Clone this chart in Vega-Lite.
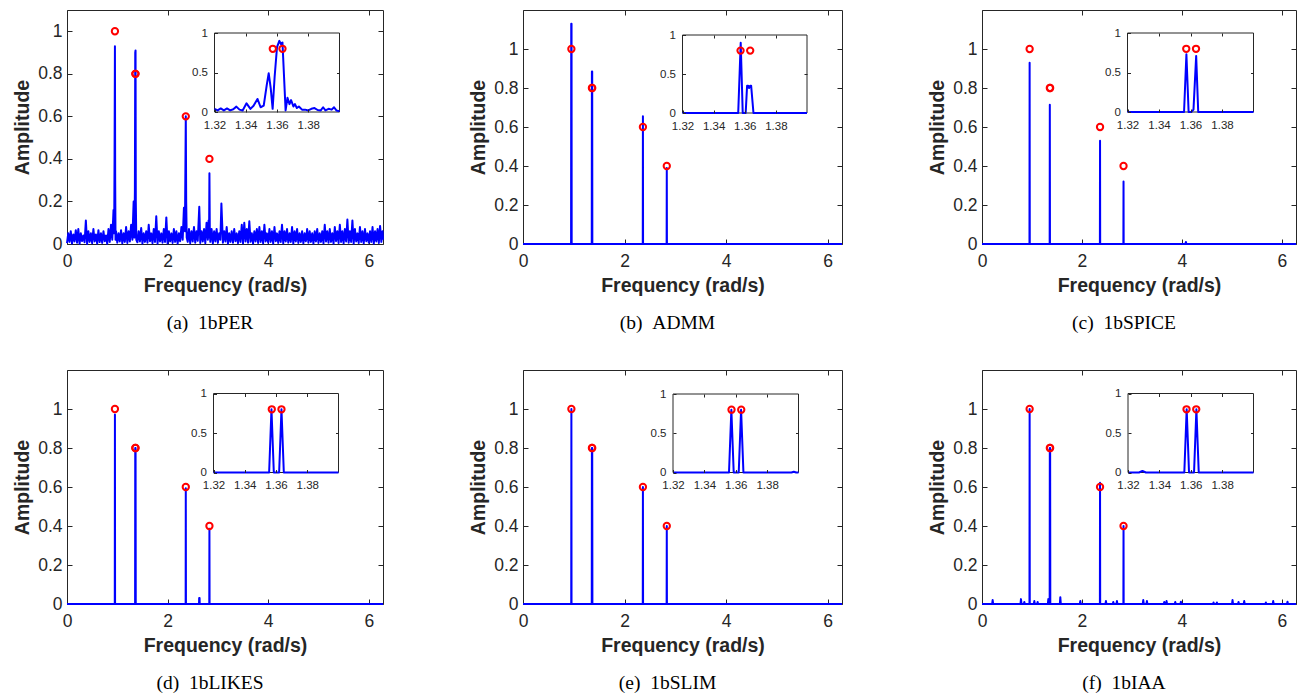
{
"$schema": "https://vega.github.io/schema/vega-lite/v6.json",
"padding": {"left": 12, "top": 9, "right": 0, "bottom": 0},
"background": "#ffffff",
"datasets": {
"truth": [{"x":0.953,"y":1},{"x":1.3573,"y":0.8},{"x":1.3635,"y":0.8},{"x":2.362,"y":0.6},{"x":2.832,"y":0.4}],
"ins_true": [{"x":1.3573,"y":0.8},{"x":1.3635,"y":0.8}],
"a_main": [{"x":0,"y":0.004},{"x":0.025,"y":0.05},{"x":0.05,"y":0.01},{"x":0.075,"y":0.06},{"x":0.1,"y":0.002},{"x":0.125,"y":0.045},{"x":0.15,"y":0.012},{"x":0.175,"y":0.065},{"x":0.2,"y":0.006},{"x":0.225,"y":0.07},{"x":0.25,"y":0.001},{"x":0.275,"y":0.05},{"x":0.3,"y":0.014},{"x":0.325,"y":0.04},{"x":0.35,"y":0.008},{"x":0.375,"y":0.11},{"x":0.4,"y":0},{"x":0.425,"y":0.06},{"x":0.45,"y":0.01},{"x":0.475,"y":0.05},{"x":0.5,"y":0.004},{"x":0.525,"y":0.07},{"x":0.55,"y":0.012},{"x":0.575,"y":0.045},{"x":0.6,"y":0.002},{"x":0.625,"y":0.065},{"x":0.65,"y":0.009},{"x":0.675,"y":0.05},{"x":0.7,"y":0.005},{"x":0.725,"y":0.06},{"x":0.75,"y":0.013},{"x":0.775,"y":0.04},{"x":0.8,"y":0.001},{"x":0.825,"y":0.07},{"x":0.85,"y":0.01},{"x":0.875,"y":0.09},{"x":0.9,"y":0.02},{"x":0.925,"y":0.16},{"x":0.938,"y":0.05},{"x":0.946,"y":0.42},{"x":0.953,"y":0.93},{"x":0.958,"y":0.3},{"x":0.965,"y":0.02},{"x":0.975,"y":0.06},{"x":1,"y":0.006},{"x":1.025,"y":0.05},{"x":1.05,"y":0.012},{"x":1.075,"y":0.065},{"x":1.1,"y":0.003},{"x":1.125,"y":0.05},{"x":1.15,"y":0.01},{"x":1.175,"y":0.08},{"x":1.2,"y":0.005},{"x":1.225,"y":0.06},{"x":1.25,"y":0.012},{"x":1.275,"y":0.09},{"x":1.3,"y":0.02},{"x":1.325,"y":0.2},{"x":1.34,"y":0.03},{"x":1.35,"y":0.25},{"x":1.357,"y":0.9},{"x":1.363,"y":0.91},{"x":1.368,"y":0.2},{"x":1.378,"y":0.02},{"x":1.4,"y":0.008},{"x":1.425,"y":0.06},{"x":1.45,"y":0.012},{"x":1.475,"y":0.075},{"x":1.5,"y":0.002},{"x":1.525,"y":0.05},{"x":1.55,"y":0.01},{"x":1.575,"y":0.06},{"x":1.6,"y":0.006},{"x":1.625,"y":0.09},{"x":1.65,"y":0.013},{"x":1.675,"y":0.05},{"x":1.7,"y":0.004},{"x":1.725,"y":0.07},{"x":1.75,"y":0.01},{"x":1.775,"y":0.13},{"x":1.8,"y":0.002},{"x":1.825,"y":0.06},{"x":1.85,"y":0.012},{"x":1.875,"y":0.05},{"x":1.9,"y":0.006},{"x":1.925,"y":0.07},{"x":1.95,"y":0.01},{"x":1.975,"y":0.125},{"x":2,"y":0.003},{"x":2.025,"y":0.06},{"x":2.05,"y":0.012},{"x":2.075,"y":0.05},{"x":2.1,"y":0.005},{"x":2.125,"y":0.07},{"x":2.15,"y":0.01},{"x":2.175,"y":0.06},{"x":2.2,"y":0.002},{"x":2.225,"y":0.05},{"x":2.25,"y":0.013},{"x":2.275,"y":0.08},{"x":2.3,"y":0.02},{"x":2.325,"y":0.17},{"x":2.345,"y":0.06},{"x":2.362,"y":0.6},{"x":2.37,"y":0.2},{"x":2.38,"y":0.03},{"x":2.4,"y":0.01},{"x":2.425,"y":0.07},{"x":2.45,"y":0.004},{"x":2.475,"y":0.06},{"x":2.5,"y":0.012},{"x":2.525,"y":0.08},{"x":2.55,"y":0.006},{"x":2.575,"y":0.06},{"x":2.6,"y":0.015},{"x":2.63,"y":0.175},{"x":2.65,"y":0.005},{"x":2.675,"y":0.06},{"x":2.7,"y":0.012},{"x":2.725,"y":0.07},{"x":2.75,"y":0.004},{"x":2.775,"y":0.1},{"x":2.8,"y":0.02},{"x":2.815,"y":0.11},{"x":2.825,"y":0.03},{"x":2.832,"y":0.333},{"x":2.84,"y":0.05},{"x":2.85,"y":0.01},{"x":2.875,"y":0.07},{"x":2.9,"y":0.003},{"x":2.925,"y":0.06},{"x":2.95,"y":0.012},{"x":2.975,"y":0.07},{"x":3,"y":0.005},{"x":3.025,"y":0.05},{"x":3.05,"y":0.02},{"x":3.07,"y":0.19},{"x":3.1,"y":0.006},{"x":3.125,"y":0.06},{"x":3.15,"y":0.012},{"x":3.175,"y":0.08},{"x":3.2,"y":0.002},{"x":3.225,"y":0.05},{"x":3.25,"y":0.01},{"x":3.275,"y":0.06},{"x":3.3,"y":0.006},{"x":3.325,"y":0.07},{"x":3.35,"y":0.013},{"x":3.375,"y":0.05},{"x":3.4,"y":0.004},{"x":3.425,"y":0.06},{"x":3.45,"y":0.01},{"x":3.475,"y":0.09},{"x":3.5,"y":0.003},{"x":3.525,"y":0.1},{"x":3.55,"y":0.012},{"x":3.575,"y":0.07},{"x":3.6,"y":0.006},{"x":3.625,"y":0.107},{"x":3.65,"y":0.01},{"x":3.675,"y":0.05},{"x":3.7,"y":0.002},{"x":3.725,"y":0.06},{"x":3.75,"y":0.012},{"x":3.775,"y":0.07},{"x":3.8,"y":0.005},{"x":3.825,"y":0.08},{"x":3.85,"y":0.01},{"x":3.875,"y":0.06},{"x":3.9,"y":0.003},{"x":3.925,"y":0.09},{"x":3.95,"y":0.012},{"x":3.975,"y":0.05},{"x":4,"y":0.006},{"x":4.025,"y":0.07},{"x":4.05,"y":0.01},{"x":4.075,"y":0.06},{"x":4.1,"y":0.002},{"x":4.125,"y":0.08},{"x":4.15,"y":0.013},{"x":4.175,"y":0.05},{"x":4.2,"y":0.005},{"x":4.225,"y":0.06},{"x":4.25,"y":0.01},{"x":4.275,"y":0.09},{"x":4.3,"y":0.003},{"x":4.325,"y":0.06},{"x":4.35,"y":0.012},{"x":4.375,"y":0.07},{"x":4.4,"y":0.006},{"x":4.425,"y":0.05},{"x":4.45,"y":0.01},{"x":4.475,"y":0.08},{"x":4.5,"y":0.002},{"x":4.525,"y":0.06},{"x":4.55,"y":0.012},{"x":4.575,"y":0.07},{"x":4.6,"y":0.005},{"x":4.625,"y":0.05},{"x":4.65,"y":0.01},{"x":4.675,"y":0.06},{"x":4.7,"y":0.003},{"x":4.725,"y":0.05},{"x":4.75,"y":0.013},{"x":4.775,"y":0.07},{"x":4.8,"y":0.006},{"x":4.825,"y":0.06},{"x":4.85,"y":0.01},{"x":4.875,"y":0.05},{"x":4.9,"y":0.002},{"x":4.925,"y":0.06},{"x":4.95,"y":0.012},{"x":4.975,"y":0.07},{"x":5,"y":0.005},{"x":5.025,"y":0.05},{"x":5.05,"y":0.01},{"x":5.075,"y":0.06},{"x":5.1,"y":0.003},{"x":5.125,"y":0.09},{"x":5.15,"y":0.012},{"x":5.175,"y":0.06},{"x":5.2,"y":0.006},{"x":5.225,"y":0.07},{"x":5.25,"y":0.01},{"x":5.275,"y":0.05},{"x":5.3,"y":0.002},{"x":5.325,"y":0.08},{"x":5.35,"y":0.013},{"x":5.375,"y":0.06},{"x":5.4,"y":0.005},{"x":5.425,"y":0.09},{"x":5.45,"y":0.01},{"x":5.475,"y":0.06},{"x":5.5,"y":0.003},{"x":5.525,"y":0.07},{"x":5.55,"y":0.012},{"x":5.575,"y":0.115},{"x":5.6,"y":0.006},{"x":5.625,"y":0.06},{"x":5.65,"y":0.01},{"x":5.675,"y":0.11},{"x":5.7,"y":0.002},{"x":5.725,"y":0.07},{"x":5.75,"y":0.012},{"x":5.775,"y":0.05},{"x":5.8,"y":0.005},{"x":5.825,"y":0.08},{"x":5.85,"y":0.01},{"x":5.875,"y":0.06},{"x":5.9,"y":0.003},{"x":5.925,"y":0.07},{"x":5.95,"y":0.013},{"x":5.975,"y":0.05},{"x":6,"y":0.006},{"x":6.025,"y":0.06},{"x":6.05,"y":0.01},{"x":6.075,"y":0.08},{"x":6.1,"y":0.002},{"x":6.125,"y":0.06},{"x":6.15,"y":0.012},{"x":6.175,"y":0.07},{"x":6.2,"y":0.005},{"x":6.225,"y":0.085},{"x":6.25,"y":0.01},{"x":6.275,"y":0.06},{"x":6.2832,"y":0.02}],
"a_ins": [{"x":1.32,"y":0.04},{"x":1.322,"y":0.02},{"x":1.324,"y":0.045},{"x":1.326,"y":0.02},{"x":1.328,"y":0.045},{"x":1.33,"y":0.02},{"x":1.332,"y":0.035},{"x":1.334,"y":0.068},{"x":1.336,"y":0.03},{"x":1.338,"y":0.02},{"x":1.3405,"y":0.11},{"x":1.343,"y":0.04},{"x":1.345,"y":0.08},{"x":1.3475,"y":0.165},{"x":1.3495,"y":0.06},{"x":1.3515,"y":0.08},{"x":1.3535,"y":0.35},{"x":1.3547,"y":0.49},{"x":1.356,"y":0.3},{"x":1.3572,"y":0.04},{"x":1.3585,"y":0.45},{"x":1.36,"y":0.82},{"x":1.3615,"y":0.9},{"x":1.3625,"y":0.86},{"x":1.3635,"y":0.88},{"x":1.3645,"y":0.45},{"x":1.3655,"y":0.02},{"x":1.3667,"y":0.18},{"x":1.368,"y":0.1},{"x":1.369,"y":0.15},{"x":1.3705,"y":0.07},{"x":1.3715,"y":0.1},{"x":1.3727,"y":0.05},{"x":1.374,"y":0.07},{"x":1.376,"y":0.03},{"x":1.378,"y":0.03},{"x":1.38,"y":0.02},{"x":1.382,"y":0.04},{"x":1.384,"y":0.05},{"x":1.386,"y":0.025},{"x":1.388,"y":0.02},{"x":1.3895,"y":0.06},{"x":1.391,"y":0.02},{"x":1.393,"y":0.04},{"x":1.395,"y":0.03},{"x":1.3965,"y":0.06},{"x":1.398,"y":0.02},{"x":1.4,"y":0.01}],
"b_main": [{"x":0,"y":0},{"x":0.947,"y":0},{"x":0.95,"y":1.13},{"x":0.956,"y":1.13},{"x":0.959,"y":0},{"x":1.354,"y":0},{"x":1.357,"y":0.885},{"x":1.363,"y":0.885},{"x":1.366,"y":0},{"x":2.359,"y":0},{"x":2.362,"y":0.655},{"x":2.365,"y":0},{"x":2.829,"y":0},{"x":2.832,"y":0.39},{"x":2.835,"y":0},{"x":6.2832,"y":0}],
"b_ins": [{"x":1.32,"y":0},{"x":1.3558,"y":0},{"x":1.3574,"y":0.9},{"x":1.3587,"y":0},{"x":1.3606,"y":0},{"x":1.3615,"y":0.35},{"x":1.3622,"y":0.35},{"x":1.3628,"y":0.32},{"x":1.3635,"y":0.35},{"x":1.3641,"y":0.35},{"x":1.3656,"y":0},{"x":1.4,"y":0}],
"c_main": [{"x":0,"y":0},{"x":0.95,"y":0},{"x":0.953,"y":0.93},{"x":0.956,"y":0},{"x":1.354,"y":0},{"x":1.357,"y":0.714},{"x":1.36,"y":0},{"x":2.359,"y":0},{"x":2.362,"y":0.529},{"x":2.365,"y":0},{"x":2.829,"y":0},{"x":2.832,"y":0.32},{"x":2.835,"y":0},{"x":4.07,"y":0},{"x":4.08,"y":0.01},{"x":4.09,"y":0},{"x":6.2832,"y":0}],
"c_ins": [{"x":1.32,"y":0},{"x":1.3559,"y":0},{"x":1.3574,"y":0.73},{"x":1.3588,"y":0},{"x":1.3605,"y":0},{"x":1.3619,"y":0.03},{"x":1.3636,"y":0.71},{"x":1.3649,"y":0},{"x":1.4,"y":0}],
"d_main": [{"x":0,"y":0},{"x":0.95,"y":0},{"x":0.953,"y":0.972},{"x":0.956,"y":0},{"x":1.354,"y":0},{"x":1.357,"y":0.8},{"x":1.36,"y":0.02},{"x":1.3635,"y":0.8},{"x":1.367,"y":0},{"x":2.359,"y":0},{"x":2.362,"y":0.593},{"x":2.365,"y":0},{"x":2.625,"y":0},{"x":2.628,"y":0.031},{"x":2.636,"y":0.031},{"x":2.639,"y":0},{"x":2.829,"y":0},{"x":2.832,"y":0.386},{"x":2.835,"y":0},{"x":6.2832,"y":0}],
"d_ins": [{"x":1.32,"y":0},{"x":1.3556,"y":0},{"x":1.3571,"y":0.8},{"x":1.3586,"y":0},{"x":1.362,"y":0},{"x":1.3635,"y":0.8},{"x":1.365,"y":0},{"x":1.4,"y":0}],
"e_main": [{"x":0,"y":0},{"x":0.95,"y":0},{"x":0.953,"y":1},{"x":0.956,"y":0},{"x":1.354,"y":0},{"x":1.357,"y":0.8},{"x":1.36,"y":0.02},{"x":1.3635,"y":0.8},{"x":1.367,"y":0},{"x":2.359,"y":0},{"x":2.362,"y":0.6},{"x":2.365,"y":0},{"x":2.829,"y":0},{"x":2.832,"y":0.4},{"x":2.835,"y":0},{"x":6.2832,"y":0}],
"e_ins": [{"x":1.32,"y":0},{"x":1.3557,"y":0},{"x":1.3572,"y":0.8},{"x":1.3587,"y":0},{"x":1.3619,"y":0},{"x":1.3634,"y":0.8},{"x":1.3649,"y":0},{"x":1.3955,"y":0},{"x":1.397,"y":0.01},{"x":1.3985,"y":0},{"x":1.4,"y":0}],
"f_main": [{"x":0,"y":0},{"x":0.203,"y":0},{"x":0.213,"y":0.02},{"x":0.223,"y":0},{"x":0.77,"y":0},{"x":0.78,"y":0.025},{"x":0.79,"y":0},{"x":0.837,"y":0},{"x":0.847,"y":0.01},{"x":0.857,"y":0},{"x":0.95,"y":0},{"x":0.953,"y":1},{"x":0.956,"y":0},{"x":1.037,"y":0},{"x":1.047,"y":0.015},{"x":1.057,"y":0},{"x":1.103,"y":0},{"x":1.113,"y":0.01},{"x":1.123,"y":0},{"x":1.317,"y":0},{"x":1.327,"y":0.025},{"x":1.337,"y":0},{"x":1.354,"y":0},{"x":1.357,"y":0.8},{"x":1.36,"y":0.02},{"x":1.3635,"y":0.8},{"x":1.367,"y":0},{"x":1.557,"y":0},{"x":1.567,"y":0.035},{"x":1.577,"y":0},{"x":1.957,"y":0},{"x":1.967,"y":0.015},{"x":1.977,"y":0},{"x":2.359,"y":0},{"x":2.362,"y":0.622},{"x":2.365,"y":0},{"x":2.47,"y":0},{"x":2.48,"y":0.015},{"x":2.49,"y":0},{"x":2.617,"y":0},{"x":2.627,"y":0.01},{"x":2.637,"y":0},{"x":2.69,"y":0},{"x":2.7,"y":0.015},{"x":2.71,"y":0},{"x":2.829,"y":0},{"x":2.832,"y":0.4},{"x":2.835,"y":0},{"x":3.217,"y":0},{"x":3.227,"y":0.02},{"x":3.237,"y":0},{"x":3.29,"y":0},{"x":3.3,"y":0.015},{"x":3.31,"y":0},{"x":3.637,"y":0},{"x":3.647,"y":0.01},{"x":3.657,"y":0},{"x":3.683,"y":0},{"x":3.693,"y":0.015},{"x":3.703,"y":0},{"x":3.857,"y":0},{"x":3.867,"y":0.01},{"x":3.877,"y":0},{"x":3.97,"y":0},{"x":3.98,"y":0.012},{"x":3.99,"y":0},{"x":4.623,"y":0},{"x":4.633,"y":0.008},{"x":4.643,"y":0},{"x":4.69,"y":0},{"x":4.7,"y":0.008},{"x":4.71,"y":0},{"x":5.003,"y":0},{"x":5.013,"y":0.02},{"x":5.023,"y":0},{"x":5.123,"y":0},{"x":5.133,"y":0.01},{"x":5.143,"y":0},{"x":5.237,"y":0},{"x":5.247,"y":0.015},{"x":5.257,"y":0},{"x":5.67,"y":0},{"x":5.68,"y":0.008},{"x":5.69,"y":0},{"x":5.817,"y":0},{"x":5.827,"y":0.015},{"x":5.837,"y":0},{"x":6.103,"y":0},{"x":6.113,"y":0.012},{"x":6.123,"y":0},{"x":6.2832,"y":0}],
"f_ins": [{"x":1.32,"y":0},{"x":1.327,"y":0},{"x":1.3292,"y":0.02},{"x":1.3314,"y":0},{"x":1.3559,"y":0},{"x":1.3574,"y":0.8},{"x":1.3589,"y":0},{"x":1.3621,"y":0},{"x":1.3636,"y":0.8},{"x":1.3651,"y":0},{"x":1.4,"y":0}]
},
"concat": [
{
"width": 316, "height": 234,
"title": {"text": "(a)\u00a0\u00a01bPER", "orient": "bottom", "offset": 19, "dx": -15, "anchor": "middle", "frame": "group"},
"layer": [
{"data": {"name": "a_main"}, "mark": {"type": "line", "color": "#0000ff", "strokeWidth": 2, "strokeJoin": "round"},
 "encoding": {"x": {"field": "x", "type": "quantitative", "scale": {"domain": [0, 6.2832], "nice": false, "zero": false}, "axis": {"orient": "bottom", "values": [0,2,4,6], "title": "Frequency (rad/s)", "labelPadding": 13.5, "titlePadding": 6}},
  "y": {"field": "y", "type": "quantitative", "scale": {"domain": [0, 1.1], "nice": false}, "axis": {"orient": "left", "values": [0,0.2,0.4,0.6,0.8,1], "format": "~g", "title": "Amplitude", "labelPadding": 10, "titlePadding": 5}}}},
{"data": {"name": "truth"}, "mark": {"type": "point", "shape": "circle", "filled": false, "color": "#ff0000", "strokeWidth": 2, "size": 40, "opacity": 1},
 "encoding": {"x": {"field": "x", "type": "quantitative", "scale": {"domain": [0, 6.2832], "nice": false, "zero": false}, "axis": {"orient": "top", "values": [0,2,4,6], "labels": false, "title": null}},
  "y": {"field": "y", "type": "quantitative", "scale": {"domain": [0, 1.1], "nice": false}, "axis": {"orient": "right", "values": [0,0.2,0.4,0.6,0.8,1], "labels": false, "title": null}}}},
{"data": {"values": [{}]}, "mark": {"type": "rect", "fill": "#ffffff", "stroke": "#262626", "strokeWidth": 1},
 "encoding": {"x": {"datum": 1.32, "type": "quantitative", "scale": {"domain": [1.32, 1.4], "range": [147.5, 272.5], "nice": false, "zero": false}, "axis": {"orient": "bottom", "offset": -132, "values": [1.32,1.34,1.36,1.38], "format": "~g", "title": null, "labelFontSize": 11.5, "tickSize": -3, "labelPadding": 10, "zindex": 1}},
  "x2": {"datum": 1.4},
  "y": {"datum": 0, "type": "quantitative", "scale": {"domain": [0, 1], "range": [102, 23], "nice": false}, "axis": {"orient": "left", "offset": -147.5, "values": [0,0.5,1], "format": "~g", "title": null, "labelFontSize": 11.5, "tickSize": -3, "labelPadding": 10, "zindex": 1}},
  "y2": {"datum": 1}}},
{"data": {"name": "a_ins"}, "mark": {"type": "line", "color": "#0000ff", "strokeWidth": 2, "strokeJoin": "round"},
 "encoding": {"x": {"field": "x", "type": "quantitative", "scale": {"domain": [1.32, 1.4], "range": [147.5, 272.5], "nice": false, "zero": false}, "axis": null},
  "y": {"field": "y", "type": "quantitative", "scale": {"domain": [0, 1], "range": [102, 23], "nice": false}, "axis": null}}},
{"data": {"name": "ins_true"}, "mark": {"type": "point", "shape": "circle", "filled": false, "color": "#ff0000", "strokeWidth": 2, "size": 40, "opacity": 1},
 "encoding": {"x": {"field": "x", "type": "quantitative", "scale": {"domain": [1.32, 1.4], "range": [147.5, 272.5], "nice": false, "zero": false}, "axis": {"orient": "top", "offset": -23, "values": [1.34,1.36,1.38], "labels": false, "title": null, "tickSize": -3, "zindex": 1}},
  "y": {"field": "y", "type": "quantitative", "scale": {"domain": [0, 1], "range": [102, 23], "nice": false}, "axis": {"orient": "right", "offset": -43.5, "values": [0.5], "labels": false, "title": null, "tickSize": -3, "zindex": 1}}}}
],
"resolve": {"scale": {"x": "independent", "y": "independent"}, "axis": {"x": "independent", "y": "independent"}}
},
{
"width": 319, "height": 234,
"title": {"text": "(b)\u00a0\u00a0ADMM", "orient": "bottom", "offset": 19, "dx": -15, "anchor": "middle", "frame": "group"},
"layer": [
{"data": {"name": "b_main"}, "mark": {"type": "line", "color": "#0000ff", "strokeWidth": 2, "strokeJoin": "round"},
 "encoding": {"x": {"field": "x", "type": "quantitative", "scale": {"domain": [0, 6.2832], "nice": false, "zero": false}, "axis": {"orient": "bottom", "values": [0,2,4,6], "title": "Frequency (rad/s)", "labelPadding": 13.5, "titlePadding": 6}},
  "y": {"field": "y", "type": "quantitative", "scale": {"domain": [0, 1.2], "nice": false}, "axis": {"orient": "left", "values": [0,0.2,0.4,0.6,0.8,1], "format": "~g", "title": "Amplitude", "labelPadding": 10, "titlePadding": 5}}}},
{"data": {"name": "truth"}, "mark": {"type": "point", "shape": "circle", "filled": false, "color": "#ff0000", "strokeWidth": 2, "size": 40, "opacity": 1},
 "encoding": {"x": {"field": "x", "type": "quantitative", "scale": {"domain": [0, 6.2832], "nice": false, "zero": false}, "axis": {"orient": "top", "values": [0,2,4,6], "labels": false, "title": null}},
  "y": {"field": "y", "type": "quantitative", "scale": {"domain": [0, 1.2], "nice": false}, "axis": {"orient": "right", "values": [0,0.2,0.4,0.6,0.8,1], "labels": false, "title": null}}}},
{"data": {"values": [{}]}, "mark": {"type": "rect", "fill": "#ffffff", "stroke": "#262626", "strokeWidth": 1},
 "encoding": {"x": {"datum": 1.32, "type": "quantitative", "scale": {"domain": [1.32, 1.4], "range": [159.5, 284], "nice": false, "zero": false}, "axis": {"orient": "bottom", "offset": -131, "values": [1.32,1.34,1.36,1.38], "format": "~g", "title": null, "labelFontSize": 11.5, "tickSize": -3, "labelPadding": 10, "zindex": 1}},
  "x2": {"datum": 1.4},
  "y": {"datum": 0, "type": "quantitative", "scale": {"domain": [0, 1], "range": [103, 25], "nice": false}, "axis": {"orient": "left", "offset": -159.5, "values": [0,0.5,1], "format": "~g", "title": null, "labelFontSize": 11.5, "tickSize": -3, "labelPadding": 10, "zindex": 1}},
  "y2": {"datum": 1}}},
{"data": {"name": "b_ins"}, "mark": {"type": "line", "color": "#0000ff", "strokeWidth": 2, "strokeJoin": "round"},
 "encoding": {"x": {"field": "x", "type": "quantitative", "scale": {"domain": [1.32, 1.4], "range": [159.5, 284], "nice": false, "zero": false}, "axis": null},
  "y": {"field": "y", "type": "quantitative", "scale": {"domain": [0, 1], "range": [103, 25], "nice": false}, "axis": null}}},
{"data": {"name": "ins_true"}, "mark": {"type": "point", "shape": "circle", "filled": false, "color": "#ff0000", "strokeWidth": 2, "size": 40, "opacity": 1},
 "encoding": {"x": {"field": "x", "type": "quantitative", "scale": {"domain": [1.32, 1.4], "range": [159.5, 284], "nice": false, "zero": false}, "axis": {"orient": "top", "offset": -25, "values": [1.34,1.36,1.38], "labels": false, "title": null, "tickSize": -3, "zindex": 1}},
  "y": {"field": "y", "type": "quantitative", "scale": {"domain": [0, 1], "range": [103, 25], "nice": false}, "axis": {"orient": "right", "offset": -35, "values": [0.5], "labels": false, "title": null, "tickSize": -3, "zindex": 1}}}}
],
"resolve": {"scale": {"x": "independent", "y": "independent"}, "axis": {"x": "independent", "y": "independent"}}
},
{
"width": 314, "height": 234,
"title": {"text": "(c)\u00a0\u00a01bSPICE", "orient": "bottom", "offset": 19, "dx": -15, "anchor": "middle", "frame": "group"},
"layer": [
{"data": {"name": "c_main"}, "mark": {"type": "line", "color": "#0000ff", "strokeWidth": 2, "strokeJoin": "round"},
 "encoding": {"x": {"field": "x", "type": "quantitative", "scale": {"domain": [0, 6.2832], "nice": false, "zero": false}, "axis": {"orient": "bottom", "values": [0,2,4,6], "title": "Frequency (rad/s)", "labelPadding": 13.5, "titlePadding": 6}},
  "y": {"field": "y", "type": "quantitative", "scale": {"domain": [0, 1.2], "nice": false}, "axis": {"orient": "left", "values": [0,0.2,0.4,0.6,0.8,1], "format": "~g", "title": "Amplitude", "labelPadding": 10, "titlePadding": 5}}}},
{"data": {"name": "truth"}, "mark": {"type": "point", "shape": "circle", "filled": false, "color": "#ff0000", "strokeWidth": 2, "size": 40, "opacity": 1},
 "encoding": {"x": {"field": "x", "type": "quantitative", "scale": {"domain": [0, 6.2832], "nice": false, "zero": false}, "axis": {"orient": "top", "values": [0,2,4,6], "labels": false, "title": null}},
  "y": {"field": "y", "type": "quantitative", "scale": {"domain": [0, 1.2], "nice": false}, "axis": {"orient": "right", "values": [0,0.2,0.4,0.6,0.8,1], "labels": false, "title": null}}}},
{"data": {"values": [{}]}, "mark": {"type": "rect", "fill": "#ffffff", "stroke": "#262626", "strokeWidth": 1},
 "encoding": {"x": {"datum": 1.32, "type": "quantitative", "scale": {"domain": [1.32, 1.4], "range": [145.5, 271.5], "nice": false, "zero": false}, "axis": {"orient": "bottom", "offset": -132, "values": [1.32,1.34,1.36,1.38], "format": "~g", "title": null, "labelFontSize": 11.5, "tickSize": -3, "labelPadding": 10, "zindex": 1}},
  "x2": {"datum": 1.4},
  "y": {"datum": 0, "type": "quantitative", "scale": {"domain": [0, 1], "range": [102, 23], "nice": false}, "axis": {"orient": "left", "offset": -145.5, "values": [0,0.5,1], "format": "~g", "title": null, "labelFontSize": 11.5, "tickSize": -3, "labelPadding": 10, "zindex": 1}},
  "y2": {"datum": 1}}},
{"data": {"name": "c_ins"}, "mark": {"type": "line", "color": "#0000ff", "strokeWidth": 2, "strokeJoin": "round"},
 "encoding": {"x": {"field": "x", "type": "quantitative", "scale": {"domain": [1.32, 1.4], "range": [145.5, 271.5], "nice": false, "zero": false}, "axis": null},
  "y": {"field": "y", "type": "quantitative", "scale": {"domain": [0, 1], "range": [102, 23], "nice": false}, "axis": null}}},
{"data": {"name": "ins_true"}, "mark": {"type": "point", "shape": "circle", "filled": false, "color": "#ff0000", "strokeWidth": 2, "size": 40, "opacity": 1},
 "encoding": {"x": {"field": "x", "type": "quantitative", "scale": {"domain": [1.32, 1.4], "range": [145.5, 271.5], "nice": false, "zero": false}, "axis": {"orient": "top", "offset": -23, "values": [1.34,1.36,1.38], "labels": false, "title": null, "tickSize": -3, "zindex": 1}},
  "y": {"field": "y", "type": "quantitative", "scale": {"domain": [0, 1], "range": [102, 23], "nice": false}, "axis": {"orient": "right", "offset": -42.5, "values": [0.5], "labels": false, "title": null, "tickSize": -3, "zindex": 1}}}}
],
"resolve": {"scale": {"x": "independent", "y": "independent"}, "axis": {"x": "independent", "y": "independent"}}
},
{
"width": 316, "height": 234,
"title": {"text": "(d)\u00a0\u00a01bLIKES", "orient": "bottom", "offset": 19, "dx": -15, "anchor": "middle", "frame": "group"},
"layer": [
{"data": {"name": "d_main"}, "mark": {"type": "line", "color": "#0000ff", "strokeWidth": 2, "strokeJoin": "round"},
 "encoding": {"x": {"field": "x", "type": "quantitative", "scale": {"domain": [0, 6.2832], "nice": false, "zero": false}, "axis": {"orient": "bottom", "values": [0,2,4,6], "title": "Frequency (rad/s)", "labelPadding": 13.5, "titlePadding": 6}},
  "y": {"field": "y", "type": "quantitative", "scale": {"domain": [0, 1.2], "nice": false}, "axis": {"orient": "left", "values": [0,0.2,0.4,0.6,0.8,1], "format": "~g", "title": "Amplitude", "labelPadding": 10, "titlePadding": 5}}}},
{"data": {"name": "truth"}, "mark": {"type": "point", "shape": "circle", "filled": false, "color": "#ff0000", "strokeWidth": 2, "size": 40, "opacity": 1},
 "encoding": {"x": {"field": "x", "type": "quantitative", "scale": {"domain": [0, 6.2832], "nice": false, "zero": false}, "axis": {"orient": "top", "values": [0,2,4,6], "labels": false, "title": null}},
  "y": {"field": "y", "type": "quantitative", "scale": {"domain": [0, 1.2], "nice": false}, "axis": {"orient": "right", "values": [0,0.2,0.4,0.6,0.8,1], "labels": false, "title": null}}}},
{"data": {"values": [{}]}, "mark": {"type": "rect", "fill": "#ffffff", "stroke": "#262626", "strokeWidth": 1},
 "encoding": {"x": {"datum": 1.32, "type": "quantitative", "scale": {"domain": [1.32, 1.4], "range": [146.5, 271.5], "nice": false, "zero": false}, "axis": {"orient": "bottom", "offset": -131.5, "values": [1.32,1.34,1.36,1.38], "format": "~g", "title": null, "labelFontSize": 11.5, "tickSize": -3, "labelPadding": 10, "zindex": 1}},
  "x2": {"datum": 1.4},
  "y": {"datum": 0, "type": "quantitative", "scale": {"domain": [0, 1], "range": [102.5, 23.5], "nice": false}, "axis": {"orient": "left", "offset": -146.5, "values": [0,0.5,1], "format": "~g", "title": null, "labelFontSize": 11.5, "tickSize": -3, "labelPadding": 10, "zindex": 1}},
  "y2": {"datum": 1}}},
{"data": {"name": "d_ins"}, "mark": {"type": "line", "color": "#0000ff", "strokeWidth": 2, "strokeJoin": "round"},
 "encoding": {"x": {"field": "x", "type": "quantitative", "scale": {"domain": [1.32, 1.4], "range": [146.5, 271.5], "nice": false, "zero": false}, "axis": null},
  "y": {"field": "y", "type": "quantitative", "scale": {"domain": [0, 1], "range": [102.5, 23.5], "nice": false}, "axis": null}}},
{"data": {"name": "ins_true"}, "mark": {"type": "point", "shape": "circle", "filled": false, "color": "#ff0000", "strokeWidth": 2, "size": 40, "opacity": 1},
 "encoding": {"x": {"field": "x", "type": "quantitative", "scale": {"domain": [1.32, 1.4], "range": [146.5, 271.5], "nice": false, "zero": false}, "axis": {"orient": "top", "offset": -23.5, "values": [1.34,1.36,1.38], "labels": false, "title": null, "tickSize": -3, "zindex": 1}},
  "y": {"field": "y", "type": "quantitative", "scale": {"domain": [0, 1], "range": [102.5, 23.5], "nice": false}, "axis": {"orient": "right", "offset": -44.5, "values": [0.5], "labels": false, "title": null, "tickSize": -3, "zindex": 1}}}}
],
"resolve": {"scale": {"x": "independent", "y": "independent"}, "axis": {"x": "independent", "y": "independent"}}
},
{
"width": 319, "height": 234,
"title": {"text": "(e)\u00a0\u00a01bSLIM", "orient": "bottom", "offset": 19, "dx": -15, "anchor": "middle", "frame": "group"},
"layer": [
{"data": {"name": "e_main"}, "mark": {"type": "line", "color": "#0000ff", "strokeWidth": 2, "strokeJoin": "round"},
 "encoding": {"x": {"field": "x", "type": "quantitative", "scale": {"domain": [0, 6.2832], "nice": false, "zero": false}, "axis": {"orient": "bottom", "values": [0,2,4,6], "title": "Frequency (rad/s)", "labelPadding": 13.5, "titlePadding": 6}},
  "y": {"field": "y", "type": "quantitative", "scale": {"domain": [0, 1.2], "nice": false}, "axis": {"orient": "left", "values": [0,0.2,0.4,0.6,0.8,1], "format": "~g", "title": "Amplitude", "labelPadding": 10, "titlePadding": 5}}}},
{"data": {"name": "truth"}, "mark": {"type": "point", "shape": "circle", "filled": false, "color": "#ff0000", "strokeWidth": 2, "size": 40, "opacity": 1},
 "encoding": {"x": {"field": "x", "type": "quantitative", "scale": {"domain": [0, 6.2832], "nice": false, "zero": false}, "axis": {"orient": "top", "values": [0,2,4,6], "labels": false, "title": null}},
  "y": {"field": "y", "type": "quantitative", "scale": {"domain": [0, 1.2], "nice": false}, "axis": {"orient": "right", "values": [0,0.2,0.4,0.6,0.8,1], "labels": false, "title": null}}}},
{"data": {"values": [{}]}, "mark": {"type": "rect", "fill": "#ffffff", "stroke": "#262626", "strokeWidth": 1},
 "encoding": {"x": {"datum": 1.32, "type": "quantitative", "scale": {"domain": [1.32, 1.4], "range": [150, 275.5], "nice": false, "zero": false}, "axis": {"orient": "bottom", "offset": -131.5, "values": [1.32,1.34,1.36,1.38], "format": "~g", "title": null, "labelFontSize": 11.5, "tickSize": -3, "labelPadding": 10, "zindex": 1}},
  "x2": {"datum": 1.4},
  "y": {"datum": 0, "type": "quantitative", "scale": {"domain": [0, 1], "range": [102.5, 24], "nice": false}, "axis": {"orient": "left", "offset": -150, "values": [0,0.5,1], "format": "~g", "title": null, "labelFontSize": 11.5, "tickSize": -3, "labelPadding": 10, "zindex": 1}},
  "y2": {"datum": 1}}},
{"data": {"name": "e_ins"}, "mark": {"type": "line", "color": "#0000ff", "strokeWidth": 2, "strokeJoin": "round"},
 "encoding": {"x": {"field": "x", "type": "quantitative", "scale": {"domain": [1.32, 1.4], "range": [150, 275.5], "nice": false, "zero": false}, "axis": null},
  "y": {"field": "y", "type": "quantitative", "scale": {"domain": [0, 1], "range": [102.5, 24], "nice": false}, "axis": null}}},
{"data": {"name": "ins_true"}, "mark": {"type": "point", "shape": "circle", "filled": false, "color": "#ff0000", "strokeWidth": 2, "size": 40, "opacity": 1},
 "encoding": {"x": {"field": "x", "type": "quantitative", "scale": {"domain": [1.32, 1.4], "range": [150, 275.5], "nice": false, "zero": false}, "axis": {"orient": "top", "offset": -24, "values": [1.34,1.36,1.38], "labels": false, "title": null, "tickSize": -3, "zindex": 1}},
  "y": {"field": "y", "type": "quantitative", "scale": {"domain": [0, 1], "range": [102.5, 24], "nice": false}, "axis": {"orient": "right", "offset": -43.5, "values": [0.5], "labels": false, "title": null, "tickSize": -3, "zindex": 1}}}}
],
"resolve": {"scale": {"x": "independent", "y": "independent"}, "axis": {"x": "independent", "y": "independent"}}
},
{
"width": 314, "height": 234,
"title": {"text": "(f)\u00a0\u00a01bIAA", "orient": "bottom", "offset": 19, "dx": -15, "anchor": "middle", "frame": "group"},
"layer": [
{"data": {"name": "f_main"}, "mark": {"type": "line", "color": "#0000ff", "strokeWidth": 2, "strokeJoin": "round"},
 "encoding": {"x": {"field": "x", "type": "quantitative", "scale": {"domain": [0, 6.2832], "nice": false, "zero": false}, "axis": {"orient": "bottom", "values": [0,2,4,6], "title": "Frequency (rad/s)", "labelPadding": 13.5, "titlePadding": 6}},
  "y": {"field": "y", "type": "quantitative", "scale": {"domain": [0, 1.2], "nice": false}, "axis": {"orient": "left", "values": [0,0.2,0.4,0.6,0.8,1], "format": "~g", "title": "Amplitude", "labelPadding": 10, "titlePadding": 5}}}},
{"data": {"name": "truth"}, "mark": {"type": "point", "shape": "circle", "filled": false, "color": "#ff0000", "strokeWidth": 2, "size": 40, "opacity": 1},
 "encoding": {"x": {"field": "x", "type": "quantitative", "scale": {"domain": [0, 6.2832], "nice": false, "zero": false}, "axis": {"orient": "top", "values": [0,2,4,6], "labels": false, "title": null}},
  "y": {"field": "y", "type": "quantitative", "scale": {"domain": [0, 1.2], "nice": false}, "axis": {"orient": "right", "values": [0,0.2,0.4,0.6,0.8,1], "labels": false, "title": null}}}},
{"data": {"values": [{}]}, "mark": {"type": "rect", "fill": "#ffffff", "stroke": "#262626", "strokeWidth": 1},
 "encoding": {"x": {"datum": 1.32, "type": "quantitative", "scale": {"domain": [1.32, 1.4], "range": [146, 271.5], "nice": false, "zero": false}, "axis": {"orient": "bottom", "offset": -131.5, "values": [1.32,1.34,1.36,1.38], "format": "~g", "title": null, "labelFontSize": 11.5, "tickSize": -3, "labelPadding": 10, "zindex": 1}},
  "x2": {"datum": 1.4},
  "y": {"datum": 0, "type": "quantitative", "scale": {"domain": [0, 1], "range": [102.5, 23.5], "nice": false}, "axis": {"orient": "left", "offset": -146, "values": [0,0.5,1], "format": "~g", "title": null, "labelFontSize": 11.5, "tickSize": -3, "labelPadding": 10, "zindex": 1}},
  "y2": {"datum": 1}}},
{"data": {"name": "f_ins"}, "mark": {"type": "line", "color": "#0000ff", "strokeWidth": 2, "strokeJoin": "round"},
 "encoding": {"x": {"field": "x", "type": "quantitative", "scale": {"domain": [1.32, 1.4], "range": [146, 271.5], "nice": false, "zero": false}, "axis": null},
  "y": {"field": "y", "type": "quantitative", "scale": {"domain": [0, 1], "range": [102.5, 23.5], "nice": false}, "axis": null}}},
{"data": {"name": "ins_true"}, "mark": {"type": "point", "shape": "circle", "filled": false, "color": "#ff0000", "strokeWidth": 2, "size": 40, "opacity": 1},
 "encoding": {"x": {"field": "x", "type": "quantitative", "scale": {"domain": [1.32, 1.4], "range": [146, 271.5], "nice": false, "zero": false}, "axis": {"orient": "top", "offset": -23.5, "values": [1.34,1.36,1.38], "labels": false, "title": null, "tickSize": -3, "zindex": 1}},
  "y": {"field": "y", "type": "quantitative", "scale": {"domain": [0, 1], "range": [102.5, 23.5], "nice": false}, "axis": {"orient": "right", "offset": -42.5, "values": [0.5], "labels": false, "title": null, "tickSize": -3, "zindex": 1}}}}
],
"resolve": {"scale": {"x": "independent", "y": "independent"}, "axis": {"x": "independent", "y": "independent"}}
}
],
"columns": 3,
"spacing": {"row": 126, "column": 140},
"bounds": "flush",
"config": {
 "view": {"stroke": "#262626", "strokeWidth": 1},
 "axis": {"grid": false, "domain": false, "labelFont": "Liberation Sans", "titleFont": "Liberation Sans", "labelColor": "#262626", "titleColor": "#262626", "tickColor": "#262626", "titleFontWeight": "bold", "labelFontSize": 17.5, "titleFontSize": 19.5, "tickSize": -5, "tickWidth": 1, "labelFlush": false, "labelOverlap": false},
 "title": {"font": "Liberation Serif", "fontSize": 19.5, "fontWeight": "normal", "color": "#000000"}
}
}
